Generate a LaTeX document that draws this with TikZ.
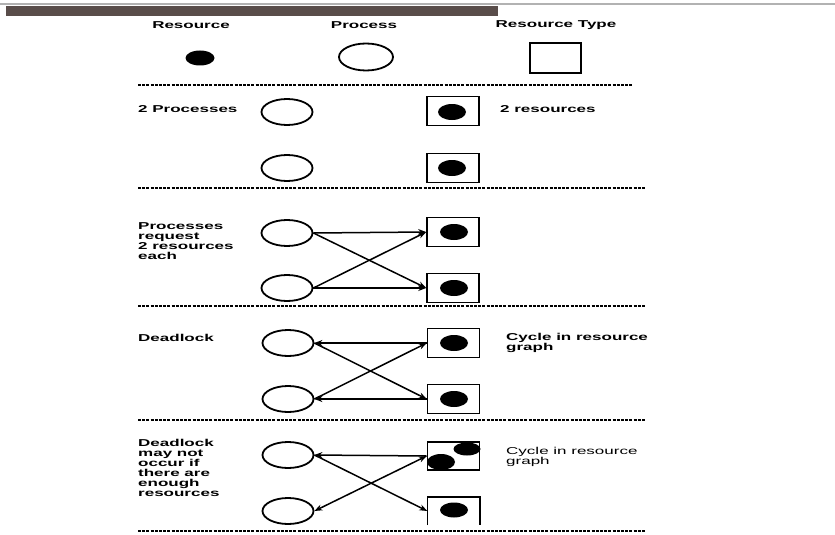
\documentclass[tikz,border=0pt]{standalone}
\usepackage{fontspec}
\setmainfont{Liberation Sans}
\usepackage{graphicx}
\usetikzlibrary{shapes.geometric,arrows.meta}
\newcommand\wtx[1]{\scalebox{1.7}[1]{#1}}
\tikzset{
  lbl/.style={inner sep=0pt, font=\fontsize{10}{10}\selectfont\bfseries, align=left},
  proc/.style={ellipse, draw, line width=1.8pt, minimum width=51pt, minimum height=26pt, inner sep=0pt},
  rbox/.style={rectangle, draw, line width=1.6pt, minimum width=52pt, minimum height=29pt, inner sep=0pt},
  rdot/.style={ellipse, fill=black, minimum width=28pt, minimum height=16pt, inner sep=0pt},
  sep/.style={line width=2pt, dash pattern=on 3pt off 1.2pt},
  tip/.style={-{Stealth[length=8pt,width=6pt]}},
  arr/.style={line width=1.5pt, tip},
}
\begin{document}
\begin{tikzpicture}[x=1pt,y=-1pt]
\useasboundingbox (0,0) rectangle (835,535);
\fill[white] (0,0) rectangle (835,535);
% top bars
\draw[line width=1.2pt, color=black!30] (0,4) -- (835,4);
\fill[color={rgb,255:red,89;green,77;blue,74}] (6,6) rectangle (498,16);
% header
\node[lbl] (hres) at (191,25) {\wtx{Resource}};
\node[lbl] (hproc) at (364,25) {\wtx{Process}};
\node[lbl] (htype) at (556,25) {\wtx{Resource Type}};
\node[rdot, minimum width=29pt, minimum height=15pt] (ldot) at (200,58) {};
\node[proc, minimum width=54pt, minimum height=27pt] (lproc) at (366,57) {};
\node[rectangle, draw, line width=1.6pt, minimum width=51pt, minimum height=30pt] (lbox) at (555.5,58) {};
% separators
\coordinate (s1a) at (138,85); \coordinate (s1b) at (632,85);
\coordinate (s2a) at (138,188); \coordinate (s2b) at (645,188);
\coordinate (s3a) at (138,306); \coordinate (s3b) at (645,306);
\coordinate (s4a) at (138,420); \coordinate (s4b) at (645,420);
\coordinate (s5a) at (138,531); \coordinate (s5b) at (645,531);
\draw[sep] (s1a) -- (s1b);
\draw[sep] (s2a) -- (s2b);
\draw[sep] (s3a) -- (s3b);
\draw[sep] (s4a) -- (s4b);
\draw[sep] (s5a) -- (s5b);
% section 1
\node[lbl, anchor=west] (t1) at (138,109) {\wtx{2 Processes}};
\node[lbl, anchor=west] (t1r) at (500,109) {\wtx{2 resources}};
\node[proc] (p11) at (287,112) {};
\node[proc] (p12) at (287,168) {};
\node[rbox] (r11) at (453,111) {};
\node[rbox] (r12) at (453,168) {};
\node[rdot] (d11) at (452,112) {};
\node[rdot] (d12) at (452,168) {};
% section 2
\node[lbl, anchor=north west] (t2) at (138,222) {\wtx{Processes}\\\wtx{request}\\\wtx{2 resources}\\\wtx{each}};
\node[proc] (p21) at (287,233) {};
\node[proc] (p22) at (287,288) {};
\node[rbox] (r21) at (453,232) {};
\node[rbox] (r22) at (453,288) {};
\node[rdot] (d21) at (454,232) {};
\node[rdot] (d22) at (454,288) {};
\draw[arr] (p21.east) -- (r21.west);
\draw[arr] (p21.east) -- (r22.west);
\draw[arr] (p22.east) -- (r21.west);
\draw[arr] (p22.east) -- (r22.west);
% section 3
\node[lbl, anchor=west] (t3) at (138,338) {\wtx{Deadlock}};
\node[lbl, anchor=north west] (t3r) at (506,333) {\wtx{Cycle in resource}\\\wtx{graph}};
\node[proc] (p31) at (288,343) {};
\node[proc] (p32) at (288,399) {};
\node[rbox] (r31) at (453.5,343) {};
\node[rbox] (r32) at (453.5,399) {};
\node[rdot] (d31) at (454,343) {};
\node[rdot] (d32) at (454,399) {};
\draw[arr] (r31.west) -- (p31.east);
\draw[arr] (p31.east) -- (r32.west);
\draw[arr] (p32.east) -- (r31.west);
\draw[arr] (r32.west) -- (p32.east);
% section 4
\node[lbl, anchor=north west] (t4) at (138,439) {\wtx{Deadlock}\\\wtx{may not}\\\wtx{occur if}\\\wtx{there are}\\\wtx{enough}\\\wtx{resources}};
\node[lbl, anchor=north west, font=\fontsize{10}{10}\selectfont] (t4r) at (506,447) {\wtx{Cycle in resource}\\\wtx{graph}};
\node[proc] (p41) at (288,455) {};
\node[proc] (p42) at (288,511) {};
\node[rbox, minimum height=28pt] (r41) at (453.5,456) {};
\node[rectangle, minimum width=52pt, minimum height=28pt, inner sep=0pt] (r42) at (453.5,511) {};
\draw[line width=1.6pt] (r42.south west) -- (r42.north west) -- (r42.north east) -- (r42.south east);
\node[rdot, minimum width=27pt, minimum height=13pt] (d41) at (467,449) {};
\node[rdot] (d42) at (441,462) {};
\node[rdot, minimum height=15pt] (d43) at (454,510) {};
\draw[arr] (r41.west) -- (p41.east);
\draw[arr] (p41.east) -- (r42.west);
\draw[line width=1.5pt, {Stealth[length=8pt,width=6pt]}-{Stealth[length=8pt,width=6pt]}] (p42.east) -- (r41.west);
\end{tikzpicture}
\end{document}
